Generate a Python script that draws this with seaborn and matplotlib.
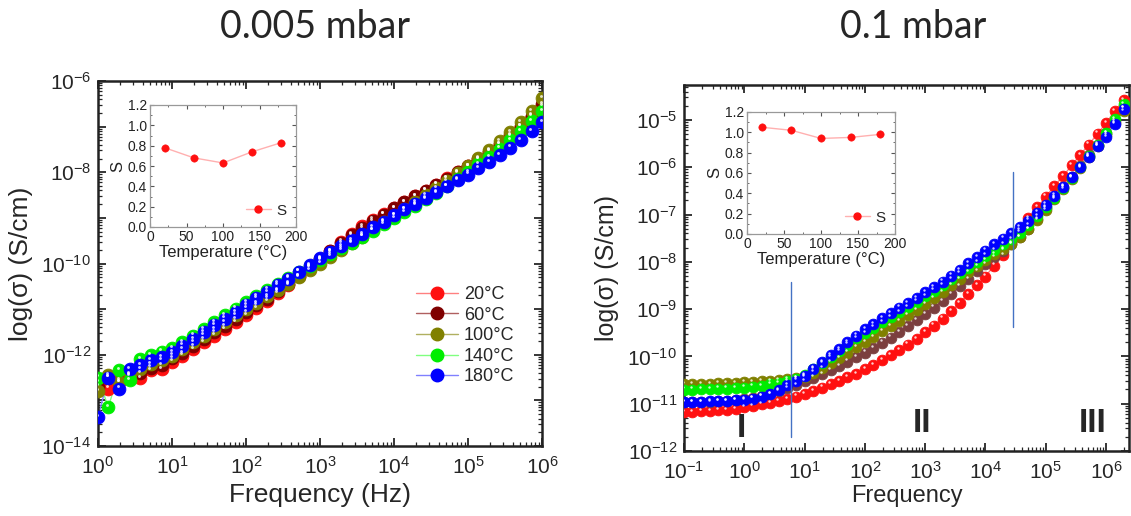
import numpy as np
import matplotlib
matplotlib.use("Agg")
import matplotlib.pyplot as plt
import matplotlib.ticker as mticker
from matplotlib.lines import Line2D
from matplotlib.transforms import ScaledTranslation
import seaborn as sns

sns.set_style("ticks")
plt.rcParams["font.family"] = ["Liberation Sans", "DejaVu Sans"]
plt.rcParams["mathtext.default"] = "regular"

# === Data (log10 values) ===
temps = ["20°C", "60°C", "100°C", "140°C", "180°C"]
colors_left = ["#ff1010", "#800000", "#808000", "#00ee00", "#0000ff"]
colors_right = ["#ff1010", "#7b3f3f", "#808000", "#00ee00", "#0000ff"]
line_left = ["#ff8080", "#b06060", "#b0b060", "#80ff80", "#8080ff"]

logf_left = [0.00, 0.14, 0.29, 0.43, 0.57, 0.71, 0.86,
             1.00, 1.14, 1.29, 1.43, 1.57, 1.71, 1.86,
             2.00, 2.14, 2.29, 2.43, 2.57, 2.71, 2.86,
             3.00, 3.14, 3.29, 3.43, 3.57, 3.71, 3.86,
             4.00, 4.14, 4.29, 4.43, 4.57, 4.71, 4.86,
             5.00, 5.14, 5.29, 5.43, 5.57, 5.71, 5.86, 6.00]

sig_20_left = [-12.60, -12.74, -12.55, -12.48, -12.52, -12.34, -12.32,
               -12.15, -12.02, -11.88, -11.73, -11.58, -11.43, -11.28,
               -11.13, -10.97, -10.82, -10.65, -10.47, -10.28, -10.08,
               -9.90, -9.72, -9.52, -9.35, -9.18, -9.04, -8.91,
               -8.78, -8.65, -8.53, -8.40, -8.27, -8.13, -7.99,
               -7.86, -7.71, -7.55, -7.38, -7.20, -7.00, -6.78, -6.55]
sig_60_left = [-12.70, -12.50, -12.60, -12.45, -12.40, -12.28, -12.22,
               -12.08, -11.96, -11.81, -11.66, -11.51, -11.37, -11.22,
               -11.07, -10.92, -10.77, -10.61, -10.45, -10.27, -10.09,
               -9.91, -9.73, -9.55, -9.38, -9.22, -9.07, -8.93,
               -8.79, -8.66, -8.53, -8.40, -8.27, -8.14, -8.00,
               -7.86, -7.71, -7.55, -7.38, -7.19, -6.99, -6.76, -6.50]
sig_100_left = [-12.80, -12.45, -12.60, -12.42, -12.32, -12.20, -12.12,
                -12.02, -11.88, -11.73, -11.58, -11.43, -11.28, -11.13,
                -10.99, -10.86, -10.72, -10.58, -10.44, -10.30, -10.15,
                -10.00, -9.85, -9.71, -9.56, -9.41, -9.26, -9.10,
                -8.95, -8.80, -8.65, -8.50, -8.35, -8.19, -8.02,
                -7.86, -7.69, -7.51, -7.32, -7.12, -6.90, -6.66, -6.38]
sig_140_left = [-12.50, -13.15, -12.33, -12.55, -12.10, -12.00, -11.93,
                -11.85, -11.72, -11.58, -11.43, -11.28, -11.13, -10.99,
                -10.85, -10.71, -10.57, -10.44, -10.31, -10.18, -10.05,
                -9.93, -9.80, -9.67, -9.54, -9.41, -9.28, -9.14,
                -9.01, -8.87, -8.73, -8.59, -8.45, -8.31, -8.15,
                -7.99, -7.83, -7.66, -7.48, -7.29, -7.09, -6.88, -6.66]
sig_180_left = [-13.36, -12.50, -12.74, -12.32, -12.22, -12.12, -12.05,
                -11.95, -11.80, -11.65, -11.50, -11.35, -11.21, -11.06,
                -10.91, -10.76, -10.62, -10.47, -10.33, -10.18, -10.04,
                -9.89, -9.75, -9.62, -9.48, -9.35, -9.21, -9.08,
                -8.94, -8.81, -8.69, -8.56, -8.43, -8.31, -8.18,
                -8.05, -7.91, -7.77, -7.62, -7.46, -7.29, -7.10, -6.90]

logf_right = [-1.00, -0.86, -0.71, -0.57, -0.43, -0.29, -0.14,
              0.00, 0.14, 0.29, 0.43, 0.57, 0.71, 0.86,
              1.00, 1.14, 1.29, 1.43, 1.57, 1.71, 1.86,
              2.00, 2.14, 2.29, 2.43, 2.57, 2.71, 2.86,
              3.00, 3.14, 3.29, 3.43, 3.57, 3.71, 3.86,
              4.00, 4.14, 4.29, 4.43, 4.57, 4.71, 4.86,
              5.00, 5.14, 5.29, 5.43, 5.57, 5.71, 5.86,
              6.00, 6.14, 6.29]

sig_20_right = [-11.18, -11.17, -11.16, -11.15, -11.14, -11.13, -11.11,
                -11.08, -11.05, -11.01, -10.98, -10.94, -10.90, -10.85,
                -10.79, -10.73, -10.66, -10.59, -10.52, -10.44, -10.37,
                -10.27, -10.18, -10.08, -9.98, -9.87, -9.75, -9.63,
                -9.49, -9.35, -9.20, -9.04, -8.87, -8.68, -8.50,
                -8.31, -8.08, -7.85, -7.60, -7.34, -7.08, -6.85,
                -6.62, -6.40, -6.18, -5.96, -5.74, -5.52, -5.29,
                -5.06, -4.82, -4.58]
sig_60_right = [-10.97, -10.97, -10.96, -10.96, -10.95, -10.94, -10.93,
                -10.91, -10.88, -10.84, -10.79, -10.73, -10.67, -10.60,
                -10.53, -10.45, -10.37, -10.29, -10.20, -10.11, -10.02,
                -9.92, -9.82, -9.71, -9.60, -9.48, -9.36, -9.23,
                -9.10, -8.97, -8.83, -8.68, -8.52, -8.36, -8.20,
                -8.05, -7.90, -7.76, -7.63, -7.48, -7.30, -7.09,
                -6.87, -6.65, -6.42, -6.20, -5.97, -5.75, -5.52,
                -5.28, -5.03, -4.76]
sig_100_right = [-10.58, -10.58, -10.58, -10.58, -10.57, -10.57, -10.56,
                 -10.55, -10.54, -10.53, -10.52, -10.50, -10.48, -10.46,
                 -10.43, -10.34, -10.24, -10.13, -10.03, -9.92, -9.81,
                 -9.70, -9.59, -9.47, -9.36, -9.25, -9.13, -9.02,
                 -8.90, -8.77, -8.64, -8.50, -8.36, -8.22, -8.09,
                 -7.96, -7.84, -7.73, -7.62, -7.48, -7.31, -7.11,
                 -6.90, -6.68, -6.46, -6.24, -6.02, -5.79, -5.56,
                 -5.32, -5.07, -4.81]
sig_140_right = [-10.70, -10.70, -10.69, -10.69, -10.68, -10.68, -10.67,
                 -10.66, -10.64, -10.62, -10.59, -10.56, -10.52, -10.47,
                 -10.40, -10.27, -10.14, -10.01, -9.88, -9.75, -9.62,
                 -9.50, -9.39, -9.28, -9.17, -9.06, -8.95, -8.84,
                 -8.73, -8.61, -8.49, -8.37, -8.24, -8.12, -8.00,
                 -7.87, -7.75, -7.63, -7.52, -7.38, -7.22, -7.04,
                 -6.84, -6.64, -6.43, -6.22, -6.00, -5.77, -5.53,
                 -5.27, -4.98, -4.66]
sig_180_right = [-10.96, -10.96, -10.96, -10.95, -10.95, -10.94, -10.93,
                 -10.92, -10.89, -10.85, -10.79, -10.71, -10.61, -10.51,
                 -10.42, -10.26, -10.12, -9.98, -9.84, -9.70, -9.56,
                 -9.42, -9.31, -9.19, -9.08, -8.97, -8.87, -8.76,
                 -8.64, -8.54, -8.42, -8.29, -8.17, -8.03, -7.90,
                 -7.76, -7.63, -7.51, -7.39, -7.27, -7.13, -6.96,
                 -6.79, -6.60, -6.41, -6.21, -6.00, -5.79, -5.56,
                 -5.36, -5.08, -4.76]

inset_temp = [20, 60, 100, 140, 180]
s_left = [0.78, 0.68, 0.63, 0.74, 0.83]
s_right = [1.05, 1.02, 0.94, 0.95, 0.98]

vlines_freq = [5.9, 2.9e4]
vlines_lo = [-11.70, -9.37]
vlines_hi = [-8.43, -6.09]
regions = ["I", "II", "III"]
regions_x = [0.9, 890, 6.0e5]
regions_y = [-11.85, -11.75, -11.75]

series_left = [sig_20_left, sig_60_left, sig_100_left, sig_140_left, sig_180_left]
series_right = [sig_20_right, sig_60_right, sig_100_right, sig_140_right, sig_180_right]

# === Figure ===
W, H = 1131, 516
fig = plt.figure(figsize=(W / 100, H / 100), dpi=100)


def px_rect(l, t, r, b):
    return [l / W, 1 - b / H, (r - l) / W, (b - t) / H]


hl_shift = ScaledTranslation(-1.0 / 72, 1.6 / 72, fig.dpi_scale_trans)


def draw_series(ax, logf, series, colors, lcolors, size):
    f = 10 ** np.array(logf)
    for vals, c, lc in zip(series, colors, lcolors):
        y = 10 ** np.array(vals)
        sns.lineplot(x=f, y=y, color=lc, lw=1, ax=ax, legend=False, sort=False)
        sns.scatterplot(x=f, y=y, color=c, s=size, edgecolor=c, linewidth=0.6,
                        ax=ax, legend=False, zorder=3)
        ax.scatter(f, y, s=size * 0.05, color="white", alpha=0.8, lw=0,
                   transform=ax.transData + hl_shift, zorder=4)


def style_main(ax, every_other):
    ax.set_xscale("log")
    ax.set_yscale("log")
    ax.xaxis.set_major_locator(mticker.LogLocator(base=10, numticks=20))
    ax.yaxis.set_major_locator(mticker.LogLocator(base=10, numticks=20))
    for axis in (ax.xaxis, ax.yaxis):
        axis.set_minor_locator(mticker.LogLocator(base=10, subs=np.arange(2, 10), numticks=20))
        axis.set_minor_formatter(mticker.NullFormatter())
    ax.xaxis.set_major_formatter(mticker.FuncFormatter(
        lambda v, p: f"$10^{{{int(round(np.log10(v)))}}}$"))
    if every_other:
        ax.yaxis.set_major_formatter(mticker.FuncFormatter(
            lambda v, p: f"$10^{{{int(round(np.log10(v)))}}}$"
            if int(round(np.log10(v))) % 2 == 0 else ""))
    else:
        ax.yaxis.set_major_formatter(mticker.FuncFormatter(
            lambda v, p: f"$10^{{{int(round(np.log10(v)))}}}$"))
    ax.tick_params(which="both", direction="in", top=True, right=True, labelsize=15)
    ax.tick_params(which="major", length=6, width=1.3, pad=5)
    ax.tick_params(axis="x", which="major", pad=7)
    ax.tick_params(which="minor", length=3, width=0.9)
    for sp in ax.spines.values():
        sp.set_linewidth(1.8)
        sp.set_color("#222222")


def draw_inset(rect, s_vals):
    ins = fig.add_axes(rect)
    sns.lineplot(x=inset_temp, y=s_vals, color="#ffb0b0", lw=1, ax=ins, legend=False)
    sns.scatterplot(x=inset_temp, y=s_vals, color="#ff1010", s=28, edgecolor="#ff1010",
                    linewidth=0.4, ax=ins, legend=False, zorder=3)
    ins.set_xlim(0, 200)
    ins.set_ylim(0, 1.2)
    ins.set_xticks([0, 50, 100, 150, 200])
    ins.set_yticks([0.0, 0.2, 0.4, 0.6, 0.8, 1.0, 1.2])
    ins.yaxis.set_major_formatter(mticker.FormatStrFormatter("%.1f"))
    ins.xaxis.set_minor_locator(mticker.MultipleLocator(25))
    ins.yaxis.set_minor_locator(mticker.MultipleLocator(0.1))
    ins.tick_params(which="both", direction="in", top=True, right=True,
                    labelsize=10, pad=2, colors="#555555", labelcolor="#222222")
    ins.tick_params(which="major", length=3)
    ins.tick_params(which="minor", length=1.5)
    for sp in ins.spines.values():
        sp.set_color("#999999")
        sp.set_linewidth(0.9)
    ins.set_xlabel("Temperature (°C)", fontsize=12, labelpad=1, color="#222222")
    ins.set_ylabel("S", fontsize=12, labelpad=2, color="#222222")
    h = Line2D([], [], color="#ffb0b0", lw=1, marker="o", ms=5,
               markerfacecolor="#ff1010", markeredgecolor="#ff1010")
    ins.legend([h], ["S"], loc="lower right", frameon=False, fontsize=11,
               handlelength=1.6, handletextpad=0.4, borderaxespad=0.2)


# --- left panel ---
axl = fig.add_axes(px_rect(98, 81, 542, 446))
style_main(axl, every_other=True)
draw_series(axl, logf_left, series_left, colors_left, line_left, 85)
axl.set_xlim(1, 1e6)
axl.set_ylim(1e-14, 1e-6)
axl.set_xlabel("Frequency (Hz)", fontsize=19, labelpad=4)
axl.set_ylabel("log(σ) (S/cm)", fontsize=19, labelpad=6)

handles = [Line2D([], [], color=lc, lw=1, marker="o", ms=9,
                  markerfacecolor=c, markeredgecolor=c)
           for c, lc in zip(colors_left, line_left)]
axl.legend(handles, temps, loc="upper left", bbox_to_anchor=(416 / W, 1 - 286 / H),
           bbox_transform=fig.transFigure, frameon=False, fontsize=13,
           handlelength=2.3, handletextpad=0.35, labelspacing=0.2,
           borderpad=0, borderaxespad=0)

# --- right panel ---
axr = fig.add_axes(px_rect(684, 85, 1129, 451))
style_main(axr, every_other=False)
draw_series(axr, logf_right, series_right, colors_right, line_left, 60)
axr.set_xlim(0.1, 10 ** 6.38)
axr.set_ylim(1e-12, 10 ** -4.26)
axr.set_xlabel("Frequency", fontsize=17, labelpad=2)
axr.set_ylabel("log(σ) (S/cm)", fontsize=18, labelpad=6)

for fx, lo, hi in zip(vlines_freq, vlines_lo, vlines_hi):
    axr.plot([fx, fx], [10 ** lo, 10 ** hi], color="#4472c4", lw=1, zorder=5)
for lab, rx, ry in zip(regions, regions_x, regions_y):
    axr.text(rx, 10 ** ry, lab, fontsize=24, fontweight="bold", ha="center",
             va="bottom", family=["Liberation Sans"], zorder=6)

# --- insets ---
draw_inset(px_rect(150, 105, 296, 227), s_left)
draw_inset(px_rect(747, 112, 895, 234), s_right)

# --- panel titles ---
fig.text(315 / W, 1 - 27 / H, "0.005 mbar", fontsize=27, ha="center", va="center",
         family=["Lato", "DejaVu Sans"])
fig.text(913 / W, 1 - 27 / H, "0.1 mbar", fontsize=27, ha="center", va="center",
         family=["Lato", "DejaVu Sans"])

fig.savefig("out.png", dpi=100)
